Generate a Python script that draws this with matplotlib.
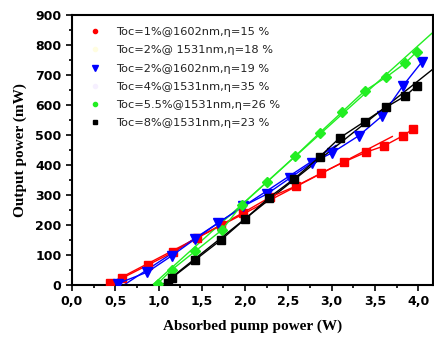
import matplotlib.pyplot as plt
import numpy as np
from matplotlib.lines import Line2D
from matplotlib.ticker import MultipleLocator, FuncFormatter

# Toc=1%@1602nm (red squares)
red_x = [0.44, 0.58, 0.88, 1.17, 1.44, 1.72, 1.97, 2.29, 2.59, 2.88, 3.14, 3.40, 3.60, 3.82, 3.94]
red_y = [8, 23, 67, 110, 157, 200, 240, 293, 330, 373, 410, 443, 463, 497, 520]
# Toc=2%@1602nm (blue triangles)
blue_x = [0.53, 0.87, 1.15, 1.42, 1.69, 1.98, 2.25, 2.52, 2.77, 3.00, 3.31, 3.58, 3.82, 4.04]
blue_y = [5, 43, 97, 153, 207, 263, 303, 357, 407, 440, 497, 563, 663, 743]
# Toc=5.5%@1531nm (green diamonds)
green_x = [0.99, 1.15, 1.42, 1.73, 1.96, 2.25, 2.58, 2.86, 3.12, 3.38, 3.63, 3.85, 3.98]
green_y = [5, 50, 112, 183, 267, 343, 430, 507, 577, 647, 693, 740, 777]
# Toc=8%@1531nm (black squares)
black_x = [1.11, 1.15, 1.42, 1.72, 2.00, 2.27, 2.57, 2.86, 3.09, 3.38, 3.63, 3.85, 3.98]
black_y = [8, 23, 83, 150, 220, 290, 355, 427, 490, 545, 593, 630, 663]

# linear fits: slope (mW/W), threshold (W), end of drawn range (W)
fit_red = (150, 0.40, 3.70)
fit_blue = (190, 0.60, 3.05)
fit_green = (260, 0.93, 4.20)
fit_black = (230, 1.04, 4.20)

labels = [
    "Toc=1%@1602nm,η=15 %",
    "Toc=2%@ 1531nm,η=18 %",
    "Toc=2%@1602nm,η=19 %",
    "Toc=4%@1531nm,η=35 %",
    "Toc=5.5%@1531nm,η=26 %",
    "Toc=8%@1531nm,η=23 %",
]

fig = plt.figure(figsize=(4.35, 3.37), dpi=100)
ax = fig.add_axes([72 / 435, 1 - 285 / 337, 361 / 435, 270 / 337])

ms = 5.5
ax.plot(red_x, red_y, color="red", marker="s", ms=ms, lw=1, zorder=3)
ax.plot(blue_x, blue_y, color="blue", marker="v", ms=ms + 1.5, lw=1, zorder=3)
ax.plot(green_x, green_y, color="#22ee22", marker="D", ms=ms - 0.5, lw=1, zorder=3)
ax.plot(black_x, black_y, color="black", marker="s", ms=ms, lw=1, zorder=3)

for (k, x0, x1), c in zip([fit_red, fit_blue, fit_green, fit_black],
                          ["red", "blue", "#22ee22", "black"]):
    xs = np.array([x0, x1])
    ax.plot(xs, k * (xs - x0), color=c, lw=1, zorder=2)

handles = [
    Line2D([], [], ls="none", marker="o", color="red", ms=3),
    Line2D([], [], ls="none", marker="o", color="#fffde0", ms=3),
    Line2D([], [], ls="none", marker="v", color="blue", ms=4),
    Line2D([], [], ls="none", marker="o", color="#f6f0ff", ms=3),
    Line2D([], [], ls="none", marker="o", color="#22ee22", ms=3),
    Line2D([], [], ls="none", marker="s", color="black", ms=3),
]
leg = ax.legend(handles, labels, loc="upper left", bbox_to_anchor=(0.025, 0.98),
                frameon=False, fontsize=8.2, handlelength=1.2, handletextpad=1.3,
                labelspacing=0.72, borderaxespad=0.2)
for t in leg.get_texts():
    t.set_color("#222222")

ax.set_xlim(0, 4.17)
ax.set_ylim(0, 900)
ax.xaxis.set_major_locator(MultipleLocator(0.5))
ax.xaxis.set_minor_locator(MultipleLocator(0.25))
ax.yaxis.set_major_locator(MultipleLocator(100))
ax.yaxis.set_minor_locator(MultipleLocator(50))
ax.xaxis.set_major_formatter(FuncFormatter(lambda v, p: f"{v:.1f}".replace(".", ",")))
ax.tick_params(which="both", direction="out", width=1.2, top=False, right=False)
ax.tick_params(which="major", length=4, labelsize=9)
ax.tick_params(which="minor", length=2.5)
for lab in ax.get_xticklabels() + ax.get_yticklabels():
    lab.set_fontweight("bold")
for sp in ax.spines.values():
    sp.set_linewidth(1.5)

ax.set_xlabel("Absorbed pump power (W)", family="Liberation Serif",
              fontweight="bold", fontsize=11, labelpad=8)
ax.set_ylabel("Output power (mW)", family="Liberation Serif",
              fontweight="bold", fontsize=11, labelpad=6)

fig.savefig("out.png", dpi=100)
